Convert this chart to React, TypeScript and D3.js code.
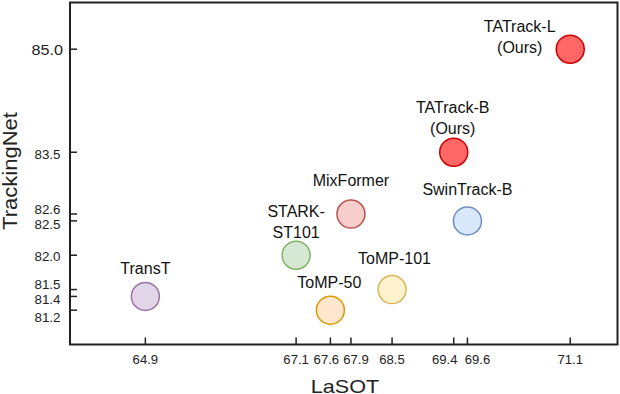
import React from 'react';
import * as d3 from 'd3';

// trackers: LaSOT AUC vs TrackingNet AUC
const names = ['TransT', 'STARK-ST101', 'ToMP-50', 'MixFormer', 'ToMP-101', 'TATrack-B', 'SwinTrack-B', 'TATrack-L'];
const lasot = [64.9, 67.1, 67.6, 67.9, 68.5, 69.4, 69.6, 71.1];
const trackingnet = [81.4, 82.0, 81.2, 82.6, 81.5, 83.5, 82.5, 85.0];

const xTicks = [64.9, 67.1, 67.6, 67.9, 68.5, 69.4, 69.6, 71.1];
const yTicks = [81.2, 81.4, 81.5, 82.0, 82.5, 82.6, 83.5, 85.0];

// draw.io-like fills / strokes
const fills = ['#e1d5e7', '#d5e8d4', '#ffe6cc', '#f8cecc', '#fff2cc', '#ff6666', '#dae8fc', '#ff6666'];
const strokes = ['#9673a6', '#82b366', '#d79b00', '#b85450', '#d6b656', '#cc0000', '#6c8ebf', '#cc0000'];

// label text lines and where they sit relative to the bubble
const labelLines = [['TransT'], ['STARK-', 'ST101'], ['ToMP-50'], ['MixFormer'], ['ToMP-101'], ['TATrack-B', '(Ours)'], ['SwinTrack-B'], ['TATrack-L', '(Ours)']];
const labelPos = [
  { dx: 0, dy: -22.5 },
  { dx: 0, dy: -38 },
  { dx: -1, dy: -22 },
  { dx: 0, dy: -28.5 },
  { dx: 2.5, dy: -26 },
  { dx: -1, dy: -39 },
  { dx: 0, dy: -25.5 },
  { dx: -50.5, dy: -17 },
];

// tick label nudges where ticks crowd together
const xNudge: Record<string, number> = { '67.6': -4, '67.9': 5, '69.4': -9, '69.6': 10 };
const yNudge: Record<string, number> = { '85.0': 0, '83.5': 2, '82.6': -4.5, '82.5': 4, '82.0': 1.5, '81.5': -4.6, '81.4': 3.3, '81.2': 7.3 };

const W = 620;
const H = 394;
const frame = { left: 70, top: 2.5, right: 617.5, bottom: 344.5 };
const font = '"Liberation Sans", Arial, Helvetica, sans-serif';

export default function App() {
  const x = d3.scaleLinear().domain([63.8, 71.79]).range([frame.left, frame.right]);
  const y = d3.scaleLinear().domain([80.7, 85.68]).range([frame.bottom, frame.top]);
  const r = 14;
  const axisColor = '#222';

  return (
    <svg width={W} height={H} style={{ position: 'absolute', left: 0, top: 0, background: '#fff' }} fontFamily={font}>
      <rect x={frame.left} y={frame.top} width={frame.right - frame.left} height={frame.bottom - frame.top}
        fill="none" stroke={axisColor} strokeWidth={2} />

      {xTicks.map((t) => (
        <g key={'x' + t}>
          <line x1={x(t)} x2={x(t)} y1={frame.bottom} y2={frame.bottom - 7} stroke={axisColor} strokeWidth={1.5} />
          <text x={x(t) + (xNudge[t.toFixed(1)] || 0)} y={363.5} textAnchor="middle" fontSize={12} fill="#222"
            textLength={25.5} lengthAdjust="spacingAndGlyphs">{t.toFixed(1)}</text>
        </g>
      ))}

      {yTicks.map((t) => {
        const key = t.toFixed(1);
        const big = key === '85.0';
        return (
          <g key={'y' + t}>
            <line x1={frame.left} x2={frame.left + 7} y1={y(t)} y2={y(t)} stroke={axisColor} strokeWidth={1.5} />
            <text x={big ? 63 : 60.5} y={y(t) + (yNudge[key] || 0)} dy="0.36em" textAnchor="end"
              fontSize={big ? 15 : 12} fill="#222" textLength={big ? 31.5 : 26}
              lengthAdjust="spacingAndGlyphs">{key}</text>
          </g>
        );
      })}

      <text x={345} y={392.5} textAnchor="middle" fontSize={19} fill="#222" textLength={68.5}
        lengthAdjust="spacingAndGlyphs">LaSOT</text>
      <text transform="translate(17,171) rotate(-90)" textAnchor="middle" fontSize={19.5} fill="#222"
        textLength={118} lengthAdjust="spacingAndGlyphs">TrackingNet</text>

      {names.map((n, i) => {
        const cx = x(lasot[i]);
        const cy = y(trackingnet[i]);
        const p = labelPos[i];
        return (
          <g key={n}>
            <circle cx={cx} cy={cy} r={r} fill={fills[i]} stroke={strokes[i]} strokeWidth={1.5} />
            {labelLines[i].map((line, j) => (
              <text key={j} x={cx + p.dx} y={cy + p.dy + j * 20.5} textAnchor="middle" fontSize={16} fill="#111">{line}</text>
            ))}
          </g>
        );
      })}
    </svg>
  );
}
